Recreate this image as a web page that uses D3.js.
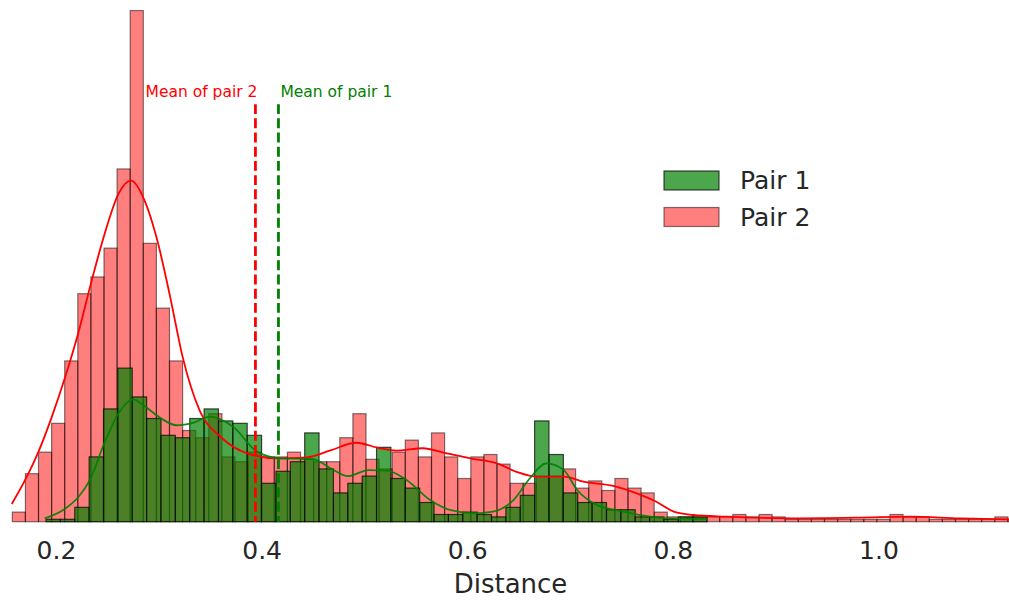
<!DOCTYPE html>
<html>
<head>
<meta charset="utf-8">
<script src="https://cdn.jsdelivr.net/npm/d3@7"></script>
<style>
  body { margin: 0; background: #fff; }
  svg { display: block; font-family: "DejaVu Sans", sans-serif; }
</style>
</head>
<body>
<div id="chart"></div>
<script>
// Histogram of pair 2 (red): first bin edge, bin width, counts per bin
const redBinStart = 0.1575;
const redBinWidth = 0.012743;
const redCounts = [
  4, 20, 29, 41, 67, 95, 102, 114, 147, 213, 116, 89, 67, 38, 35, 45, 27, 25, 29, 27,
  27, 29, 26, 25, 25, 35, 45, 26, 22, 29, 34, 27, 37, 27, 18, 27, 28, 24, 16, 16,
  19, 19, 22, 14, 17, 13, 18, 14, 12, 4, 2, 2, 2, 2, 2, 3, 2, 3, 2, 1,
  1, 1, 1, 1, 1, 1, 1, 3, 2, 2, 1, 1, 1, 1, 1, 2, 1,
];

// Histogram of pair 1 (green)
const greenBinStart = 0.1903;
const greenBinWidth = 0.013979;
const greenCounts = [
  1, 1, 6, 27, 47, 64, 52, 43, 36, 35, 43, 47, 42, 41, 36, 16, 21, 25, 37, 22,
  12, 16, 19, 31, 18, 14, 8, 3, 3, 4, 3, 2, 6, 11, 42, 28, 12, 8, 8, 5,
  5, 2, 2, 1, 2, 2,
];

// KDE curves: [distance, count]
const redKde = [
  [0.157, 7.4], [0.170, 17.4], [0.183, 29.2], [0.196, 43.8], [0.209, 60.4],
  [0.222, 79.2], [0.234, 99.3], [0.247, 119.5], [0.261, 136.8], [0.273, 142.1],
  [0.286, 134], [0.298, 118.1], [0.311, 93.8], [0.323, 69], [0.340, 46.1],
  [0.360, 35.4], [0.386, 28.5], [0.416, 26.4], [0.444, 26.8], [0.467, 29.7],
  [0.492, 32.9], [0.515, 30.6], [0.531, 29.6], [0.557, 30.6], [0.577, 28.8],
  [0.603, 26.4], [0.629, 24.3], [0.648, 20.8], [0.668, 18.8], [0.694, 18.8],
  [0.713, 16.7], [0.742, 14.9], [0.765, 11.8], [0.784, 8.3], [0.801, 4.2],
  [0.820, 2.8], [0.852, 2.1], [0.917, 1.4], [0.982, 1.7], [1.031, 2.1],
  [1.079, 1.4], [1.127, 1.0],
];
const greenKde = [
  [0.189, 1.4], [0.207, 4.9], [0.222, 10.4], [0.233, 17.4], [0.247, 32.7],
  [0.261, 45.2], [0.275, 51], [0.287, 47.9], [0.301, 43.4], [0.317, 40.2],
  [0.334, 41.3], [0.350, 43.8], [0.373, 39.3], [0.395, 29.3], [0.418, 26.4],
  [0.450, 26.1], [0.467, 22.3], [0.484, 19], [0.504, 21.5], [0.522, 21.3],
  [0.541, 17.4], [0.564, 9], [0.583, 4.9], [0.606, 3.5], [0.625, 4.2],
  [0.645, 9], [0.661, 18.1], [0.677, 24.3], [0.694, 21.5], [0.707, 13.2],
  [0.726, 7], [0.752, 4.2], [0.778, 2.1], [0.797, 1.4], [0.833, 1.2],
];

// Means and their labels
const means = [
  { label: 'Mean of pair 2', value: 0.394, color: '#ff0000', anchor: 'end' },
  { label: 'Mean of pair 1', value: 0.4164, color: '#008000', anchor: 'start' },
];
const meanTop = 174;
const meanLabelY = 177;

const tickValues = [0.2, 0.4, 0.6, 0.8, 1.0];
const legendItems = [
  { label: 'Pair 1', color: '#008000', alpha: 0.7 },
  { label: 'Pair 2', color: '#ff0000', alpha: 0.5 },
];

const width = 1009;
const height = 602;
const baseline = 521.7;

const x = d3.scaleLinear().domain([0.14553, 1.12704]).range([0, width]);
const y = d3.scaleLinear().domain([0, 217.4]).range([baseline, 0]);

const svg = d3.select('#chart')
  .append('svg')
  .attr('width', width)
  .attr('height', height);

const bins = (start, w, counts) => counts.map((c, i) => ({
  x0: start + i * w,
  x1: start + (i + 1) * w,
  count: c,
}));

const drawBars = (data, color, alpha) => {
  svg.append('g')
    .selectAll('rect')
    .data(data.filter(d => d.count > 0))
    .join('rect')
    .attr('x', d => x(d.x0))
    .attr('y', d => y(d.count))
    .attr('width', d => x(d.x1) - x(d.x0))
    .attr('height', d => y(0) - y(d.count))
    .attr('fill', color)
    .attr('fill-opacity', alpha)
    .attr('stroke', '#000')
    .attr('stroke-opacity', alpha)
    .attr('stroke-width', 1.2);
};

drawBars(bins(redBinStart, redBinWidth, redCounts), '#ff0000', 0.5);
drawBars(bins(greenBinStart, greenBinWidth, greenCounts), '#008000', 0.7);

// KDE lines
const kdeLine = d3.line()
  .x(d => x(d[0]))
  .y(d => y(d[1]))
  .curve(d3.curveMonotoneX);

svg.append('path')
  .attr('d', kdeLine(redKde))
  .attr('fill', 'none')
  .attr('stroke', '#ff0000')
  .attr('stroke-width', 1.8);

svg.append('path')
  .attr('d', kdeLine(greenKde))
  .attr('fill', 'none')
  .attr('stroke', '#008000')
  .attr('stroke-opacity', 0.9)
  .attr('stroke-width', 1.8);

// Mean lines and labels
means.forEach((m) => {
  svg.append('line')
    .attr('x1', x(m.value))
    .attr('x2', x(m.value))
    .attr('y1', y(meanTop))
    .attr('y2', y(0))
    .attr('stroke', m.color)
    .attr('stroke-width', 2.8)
    .attr('stroke-dasharray', '9.9,4.3');

  svg.append('text')
    .attr('x', x(m.value) + 2)
    .attr('y', y(meanLabelY))
    .attr('text-anchor', m.anchor)
    .attr('fill', m.color)
    .style('font-size', '15.5px')
    .text(m.label);
});

// X axis (no line, no ticks)
const xAxis = d3.axisBottom(x)
  .tickValues(tickValues)
  .tickFormat(d3.format('.1f'))
  .tickSize(0)
  .tickPadding(20);

const gx = svg.append('g')
  .attr('transform', `translate(0, ${baseline})`)
  .call(xAxis);
gx.select('.domain').remove();
gx.selectAll('text')
  .attr('fill', '#262626')
  .style('font-size', '25px')
  .style('font-family', '"DejaVu Sans", sans-serif');

svg.append('text')
  .attr('x', width / 2 + 6)
  .attr('y', 593)
  .attr('text-anchor', 'middle')
  .attr('fill', '#262626')
  .style('font-size', '26px')
  .text('Distance');

// Legend
const legend = svg.append('g')
  .attr('transform', 'translate(664, 171)');

legendItems.forEach((item, i) => {
  const row = legend.append('g')
    .attr('transform', `translate(0, ${i * 36.5})`);
  row.append('rect')
    .attr('width', 55)
    .attr('height', 19)
    .attr('fill', item.color)
    .attr('fill-opacity', item.alpha)
    .attr('stroke', '#000')
    .attr('stroke-opacity', item.alpha)
    .attr('stroke-width', 1.2);
  row.append('text')
    .attr('x', 76)
    .attr('y', 18)
    .attr('fill', '#262626')
    .style('font-size', '25px')
    .text(item.label);
});
</script>
</body>
</html>
